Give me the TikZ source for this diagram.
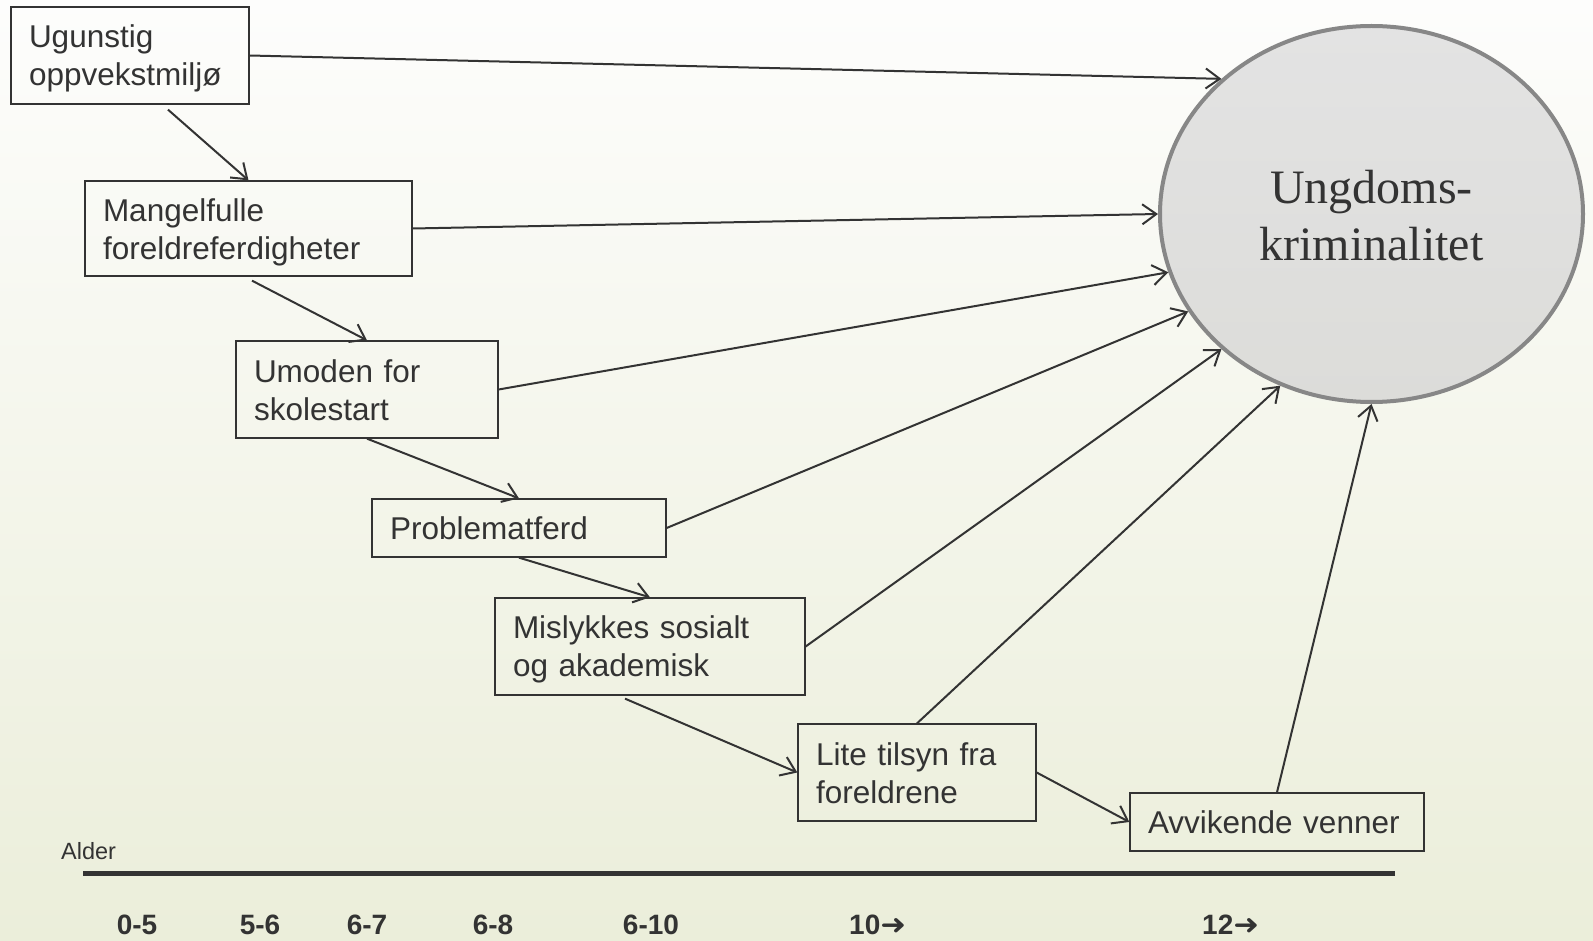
\documentclass[tikz,border=0pt]{standalone}
\usepackage{fontspec}
\setmainfont{Liberation Sans}
\newfontfamily\serifx{Liberation Serif}
\newfontfamily\arrowfont{DejaVu Sans}
\usetikzlibrary{arrows.meta,shapes.geometric,calc}
\definecolor{bgtop}{HTML}{FDFDFC}
\definecolor{bgbot}{HTML}{EBEEDA}
\definecolor{ink}{HTML}{333333}
\definecolor{elltop}{HTML}{E3E3E3}
\definecolor{ellbot}{HTML}{DCDCD9}
\definecolor{ellline}{HTML}{878787}
\newcommand{\rarr}{{\arrowfont\fontsize{28}{30}\selectfont\scalebox{1.1}[1]{➜}}}
\begin{document}
\begin{tikzpicture}[x=1pt,y=-1pt,
  box/.style={draw=ink, line width=1.3pt, rectangle, inner xsep=18pt, inner ysep=0pt,
    align=left, font=\fontsize{31.5}{37.6}\selectfont, text=ink, anchor=center},
  twoline/.style={execute at begin node={\rule{0pt}{#1}}},
  twoline/.default=29pt,
  conn/.style={draw=ink, line width=2pt, -{Straight Barb[length=14pt,width=20pt]}},
  agelbl/.style={font=\bfseries\fontsize{28}{30}\selectfont, text=ink, anchor=base, inner sep=0pt},
]
\useasboundingbox (0,0) rectangle (1593,941);
\shade[top color=bgtop, bottom color=bgbot] (0,0) rectangle (1593,941);

\node[box, twoline, minimum height=97pt, text width=202pt] (ug) at (130,55.5) {Ugunstig\\oppvekstmiljø};
\node[box, twoline=30pt, minimum height=95pt, text width=291pt] (ma) at (248.5,228.5) {Mangelfulle\\foreldreferdigheter};
\node[box, twoline=24pt, minimum height=97pt, text width=226pt] (um) at (367,389.5) {Umoden for\\skolestart};
\node[box, minimum height=58pt, text width=258pt] (pr) at (519,528) {Problematferd};
\node[box, twoline, minimum height=97pt, text width=274pt] (mi) at (650,646.5) {Mislykkes sosialt\\og akademisk};
\node[box, twoline=24pt, minimum height=97pt, text width=202pt] (li) at (917,772.5) {Lite tilsyn fra\\foreldrene};
\node[box, minimum height=58pt, text width=258pt] (av) at (1277,822) {Avvikende venner};

\node[ellipse, draw=ellline, line width=4pt, top color=elltop, bottom color=ellbot,
  minimum width=423pt, minimum height=376pt, inner sep=0pt, align=center,
  font=\serifx\fontsize{48}{57}\selectfont, text=ink] (ell) at (1371.5,214) {\rule{0pt}{37pt}Ungdoms-\\kriminalitet};

\draw[conn] (ug.east) -- (ell.138);
\draw[conn] ([shift={(38,5)}]ug.south) -- (ma.north);
\draw[conn] (ma.east) -- (ell.180);
\draw[conn] ([shift={(3.5,4)}]ma.south) -- (um.north);
\draw[conn] (um.east) -- (ell.196);
\draw[conn] (um.south) -- (pr.north);
\draw[conn] (pr.east) -- (ell.208);
\draw[conn] (pr.south) -- (mi.north);
\draw[conn] (mi.east) -- (ell.222);
\draw[conn] ([shift={(-25,3)}]mi.south) -- (li.west);
\draw[conn] (li.north) -- (ell.242);
\draw[conn] (li.east) -- (av.west);
\draw[conn] (av.north) -- (ell.270);

\coordinate (axL) at (83,873);
\coordinate (axR) at (1395,873);
\draw[ink, line width=5pt] (axL) -- (axR);
\node[anchor=base west, font=\fontsize{23.5}{26}\selectfont, text=ink, inner sep=0pt] (alder) at (61,859) {Alder};

\node[agelbl] (a1) at (137,934) {0-5};
\node[agelbl] (a2) at (260,934) {5-6};
\node[agelbl] (a3) at (367,934) {6-7};
\node[agelbl] (a4) at (493,934) {6-8};
\node[agelbl] (a5) at (651,934) {6-10};
\node[agelbl, anchor=base west] (a6) at (849,934) {10\rarr};
\node[agelbl, anchor=base west] (a7) at (1202,934) {12\rarr};
\end{tikzpicture}
\end{document}
